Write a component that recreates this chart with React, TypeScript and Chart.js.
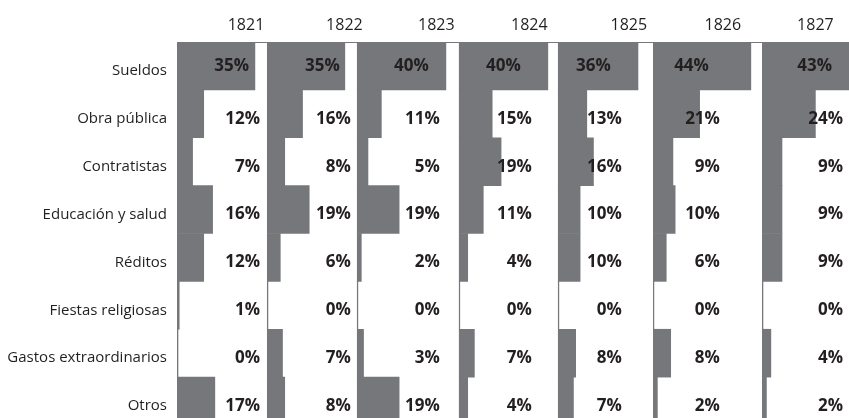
import { useEffect, useRef } from "react";
import { Chart, registerables } from "chart.js";

Chart.register(...registerables);

const categories = [
  "Sueldos",
  "Obra pública",
  "Contratistas",
  "Educación y salud",
  "Réditos",
  "Fiestas religiosas",
  "Gastos extraordinarios",
  "Otros",
];
const years = ["1821", "1822", "1823", "1824", "1825", "1826", "1827"];

const v1821 = [35, 12, 7, 16, 12, 1, 0, 17];
const v1822 = [35, 16, 8, 19, 6, 0, 7, 8];
const v1823 = [40, 11, 5, 19, 2, 0, 3, 19];
const v1824 = [40, 15, 19, 11, 4, 0, 7, 4];
const v1825 = [36, 13, 16, 10, 10, 0, 8, 7];
const v1826 = [44, 21, 9, 10, 6, 0, 8, 2];
const v1827 = [43, 24, 9, 9, 9, 0, 4, 2];
const seriesByYear = [v1821, v1822, v1823, v1824, v1825, v1826, v1827];

// width of each year's column, in percentage points of the common scale
const columnSpan = [40.4, 40.4, 45.8, 44.5, 42.7, 49.0, 39.1];
// where the year heading and the value labels sit inside each column (percentage points)
const yearTickAt = [31.0, 34.8, 35.7, 31.7, 31.9, 31.4, 24.0];
const valueLabelAt = [37.3, 37.7, 37.3, 32.8, 28.75, 30.1, 36.4];

const BAR = "#75777b";
const TEXT = "#231f20";

const valueLabels = {
  id: "valueLabels",
  afterDatasetsDraw(chart: any) {
    const ctx = chart.ctx;
    const yS = chart.scales.y;
    ctx.save();
    ctx.font = 'bold 17px "Open Sans"';
    ctx.fillStyle = TEXT;
    ctx.textAlign = "right";
    ctx.textBaseline = "middle";
    chart.data.datasets.forEach((ds: any, i: number) => {
      const xs = chart.scales["x" + i];
      ds.data.forEach((v: number, j: number) => {
        const first = j === 0;
        const x = xs.getPixelForValue(valueLabelAt[i]) - (first ? 11 : 0);
        const y = yS.getPixelForValue(j) + (first ? 0 : 5);
        ctx.fillText(v + "%", x, y);
      });
    });
    ctx.restore();
  },
};

export default function App() {
  const ref = useRef<HTMLCanvasElement>(null);
  useEffect(() => {
    if (!ref.current) return;
    const scales: any = {
      y: {
        type: "category",
        position: "left",
        grid: { display: false, drawTicks: false },
        border: { display: true, color: "#4d4f53", width: 1 },
        ticks: {
          color: TEXT,
          font: { family: "Open Sans", size: 15 },
          padding: 10,
          labelOffset: 5,
        },
        afterFit: (s: any) => {
          s.width = 177;
          s.paddingTop = 0;
          s.paddingBottom = 0;
        },
      },
    };
    years.forEach((yr, i) => {
      scales["x" + i] = {
        type: "linear",
        position: "top",
        stack: "years",
        stackWeight: columnSpan[i],
        weight: years.length - i,
        min: 0,
        max: columnSpan[i],
        grid: { display: false, drawTicks: false },
        border: { display: true, color: BAR, width: 1 },
        afterBuildTicks: (s: any) => {
          s.ticks = [{ value: yearTickAt[i] }];
        },
        ticks: {
          callback: () => yr,
          color: TEXT,
          font: { family: "Open Sans", size: 16 },
          padding: 7,
          maxRotation: 0,
          autoSkip: false,
        },
        afterFit: (s: any) => {
          s.height = 42;
          s.paddingLeft = 0;
          s.paddingRight = 0;
        },
      };
    });
    const chart = new Chart(ref.current, {
      type: "bar",
      data: {
        labels: categories,
        datasets: years.map((yr, i) => ({
          label: yr,
          data: seriesByYear[i],
          xAxisID: "x" + i,
          yAxisID: "y",
          backgroundColor: BAR,
          borderWidth: 0,
          barPercentage: 1,
          categoryPercentage: 1,
          grouped: false,
          minBarLength: 1,
        })),
      },
      options: {
        indexAxis: "y",
        animation: false,
        responsive: false,
        devicePixelRatio: 1,
        layout: { padding: 0 },
        plugins: { legend: { display: false }, tooltip: { enabled: false } },
        scales,
      } as any,
      plugins: [valueLabels],
    });
    return () => chart.destroy();
  }, []);
  return (
    <div
      style={{
        position: "fixed",
        left: 0,
        top: 0,
        width: 849,
        height: 418,
        overflow: "hidden",
        background: "#fff",
      }}
    >
      <canvas ref={ref} width={849} height={425} style={{ display: "block" }} />
    </div>
  );
}
